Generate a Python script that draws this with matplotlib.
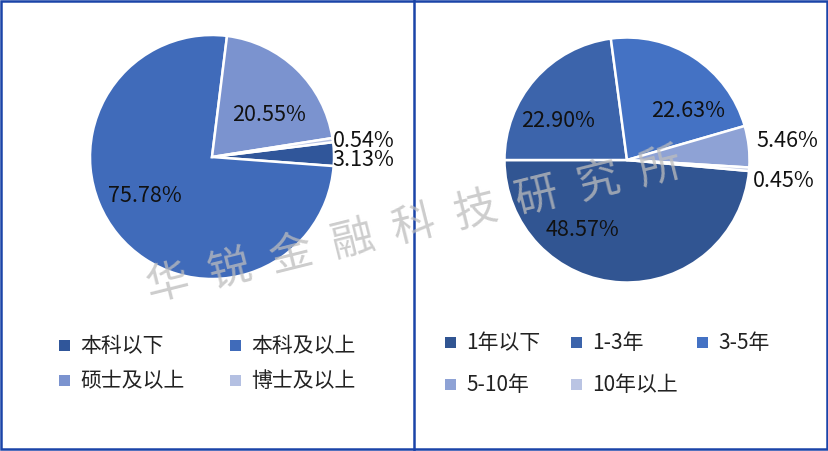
import numpy as np
import matplotlib
matplotlib.use("Agg")
import matplotlib.pyplot as plt
from matplotlib.patches import Rectangle
from matplotlib.lines import Line2D

plt.rcParams['font.family'] = ['Noto Sans CJK SC', 'DejaVu Sans']

# 学历分布
edu_labels = ['本科以下', '本科及以上', '硕士及以上', '博士及以上']
edu_values = [3.13, 75.78, 20.55, 0.54]
edu_colors = ['#30569a', '#406bba', '#7b93cf', '#b4c0e2']

# 工作年限分布
year_labels = ['1年以下', '1-3年', '3-5年', '5-10年', '10年以上']
year_values = [48.57, 22.90, 22.63, 5.46, 0.45]
year_colors = ['#315592', '#3c64ab', '#4472c4', '#8ea2d5', '#bac4e3']

W, H = 829, 452
fig = plt.figure(figsize=(W / 100, H / 100), dpi=100)
border = '#1a44a8'


def px_axes(cx, cy, r):
    return fig.add_axes([(cx - r) / W, (H - cy - r) / H, 2 * r / W, 2 * r / H])


def pie_panel(ax, values, colors, start, place):
    wedges, _ = ax.pie(values, colors=colors, startangle=start, counterclock=False,
                       radius=1, wedgeprops=dict(edgecolor='white', linewidth=1.8))
    ax.set_xlim(-1, 1)
    ax.set_ylim(-1, 1)
    for w, v, (kind, a, b) in zip(wedges, values, place):
        mid = np.deg2rad((w.theta1 + w.theta2) / 2)
        txt = f'{v:.2f}%'
        if kind == 'in':
            ang = mid + np.deg2rad(b)
            ax.text(a * np.cos(ang), a * np.sin(ang), txt, ha='center', va='center',
                    fontsize=15.5, color='#111111')
        else:
            ax.text(a, np.sin(mid) + b, txt, ha='left', va='center',
                    fontsize=15.5, color='#111111', clip_on=False)


ax1 = px_axes(212, 158, 122)
pie_panel(ax1, edu_values, edu_colors, 7,
          [('out', 0.99, -0.04), ('in', 0.63, -10), ('in', 0.58, -9), ('out', 0.99, 0.0)])

ax2 = px_axes(627, 161, 122.5)
pie_panel(ax2, year_values, year_colors, -5.15,
          [('in', 0.67, -30), ('in', 0.65, 11), ('in', 0.645, -18), ('out', 1.06, 0.05),
           ('out', 1.03, -0.09)])


def draw_legend(labels, colors, x0, y0, dx, dy, ncol):
    for i, (lab, col) in enumerate(zip(labels, colors)):
        x = x0 + (i % ncol) * dx
        y = y0 + (i // ncol) * dy
        fig.add_artist(Rectangle((x / W, 1 - (y + 5.5) / H), 11 / W, 11 / H,
                                 transform=fig.transFigure, color=col, lw=0))
        fig.text((x + 21) / W, 1 - y / H, lab, ha='left', va='center',
                 fontsize=15, color='#222222')


draw_legend(edu_labels, edu_colors, 59, 346, 171, 35, 2)
draw_legend(year_labels, year_colors, 445, 343, 126, 42, 3)

# 水印
wm = '华锐金融科技研究所'
x_a, y_a, x_b, y_b = 168, 284, 660, 168
for i, ch in enumerate(wm):
    t = i / (len(wm) - 1)
    fig.text((x_a + t * (x_b - x_a)) / W, 1 - (y_a + t * (y_b - y_a)) / H, ch,
             ha='center', va='center', fontsize=31, rotation=14,
             color='#bdbdbd', alpha=0.75, fontweight='light', zorder=10)

# 边框
fig.add_artist(Rectangle((1 / W, 2 / H), 826 / W, 448 / H, transform=fig.transFigure,
                         fill=False, ec=border, lw=1.8))
fig.add_artist(Line2D([414 / W, 414 / W], [0, 1], transform=fig.transFigure,
                      color=border, lw=1.8))

fig.savefig('out.png', dpi=100)
